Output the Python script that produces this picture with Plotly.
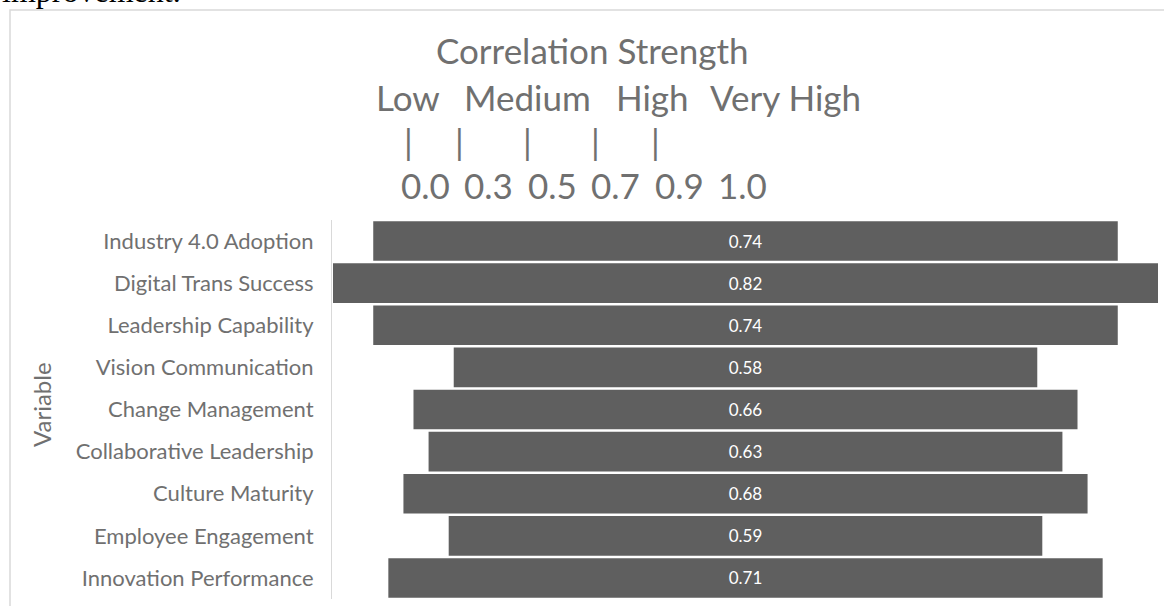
import plotly.graph_objects as go

# Correlation of each variable with overall performance
variables = [
    "Industry 4.0 Adoption",
    "Digital Trans Success",
    "Leadership Capability",
    "Vision Communication",
    "Change Management",
    "Collaborative Leadership",
    "Culture Maturity",
    "Employee Engagement",
    "Innovation Performance",
]
correlations = [0.74, 0.82, 0.74, 0.58, 0.66, 0.63, 0.68, 0.59, 0.71]

# Legend-style scale printed in the header
header_title = "Correlation Strength"
strength_levels = ["Low", "Medium", "High", "Very High"]
scale_ticks = ["0.0", "0.3", "0.5", "0.7", "0.9", "1.0"]

FONT = "Lato"
TEXT_GREY = "#707070"
BAR_GREY = "#5f5f5f"

W, H = 1164, 606
ML, MR, MT, MB = 332, 5, 220, 7
PW, PH = W - ML - MR, H - MT - MB


def px_x(px):
    return (px - ML) / PW


def px_y(py):
    return (H - MB - py) / PH


fig = go.Figure(
    go.Funnel(
        y=variables,
        x=correlations,
        texttemplate="%{x:.2f}",
        textposition="inside",
        insidetextanchor="middle",
        textfont=dict(family=FONT, size=17, color="white"),
        marker=dict(color=BAR_GREY, line=dict(width=0)),
        connector=dict(visible=False),
        hoverinfo="skip",
    )
)

half = max(correlations) / 2 * 827 / 825
fig.update_xaxes(visible=False, range=[-half, half], fixedrange=True)
fig.update_yaxes(
    showline=True,
    linecolor="#d9d9d9",
    linewidth=1,
    ticks="",
    ticklabelstandoff=13,
    tickfont=dict(family=FONT, size=22, color=TEXT_GREY),
    showgrid=False,
)

annotations = []


def add_text(text, cx, cy, size, **kw):
    annotations.append(
        dict(
            text=text,
            x=px_x(cx),
            y=px_y(cy),
            xref="paper",
            yref="paper",
            xanchor=kw.pop("xanchor", "center"),
            yanchor=kw.pop("yanchor", "middle"),
            showarrow=False,
            font=dict(family=kw.pop("family", FONT), size=size, color=kw.pop("color", TEXT_GREY)),
            **kw,
        )
    )


# Header lines
add_text(header_title, 592, 50, 35)
for word, cx in zip(strength_levels, [407.5, 527.5, 652, 785]):
    add_text(word, cx, 97, 35)
for cx in [408, 459, 527, 595, 655]:
    add_text("|", cx, 141, 35)
for tick, cx in zip(scale_ticks, [425, 488.5, 552, 615.5, 679, 742.5]):
    add_text(tick, cx, 185, 35)

# Axis title
add_text("Variable", 41, 405, 24, textangle=-90)

# Trailing text of the surrounding document
add_text("improvement.", 0, 11, 32, xanchor="left", yanchor="bottom",
         family="Liberation Serif", color="#000000")

# Chart frame
shapes = [
    dict(
        type="rect",
        xref="paper",
        yref="paper",
        x0=px_x(10),
        x1=px_x(1200),
        y0=px_y(640),
        y1=px_y(10),
        line=dict(color="#d9d9d9", width=1.5),
        fillcolor="rgba(0,0,0,0)",
        layer="below",
    )
]

fig.update_layout(
    width=W,
    height=H,
    margin=dict(l=ML, r=MR, t=MT, b=MB, autoexpand=False),
    paper_bgcolor="white",
    plot_bgcolor="white",
    funnelgap=0.06,
    showlegend=False,
    annotations=annotations,
    shapes=shapes,
    font=dict(family=FONT, color=TEXT_GREY),
)

fig.write_html("out.html")
